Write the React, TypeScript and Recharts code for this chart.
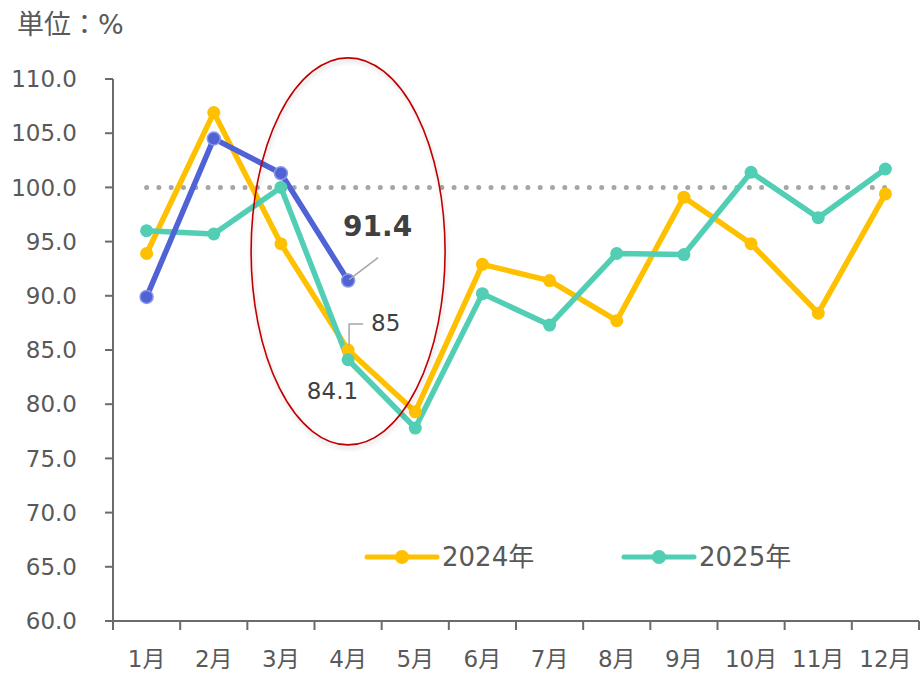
import React from 'react';
import { LineChart, Line, XAxis, YAxis, ReferenceLine, ReferenceDot } from 'recharts';

const months = ['1月', '2月', '3月', '4月', '5月', '6月', '7月', '8月', '9月', '10月', '11月', '12月'];
const values2024 = [93.9, 106.9, 94.8, 85, 79.3, 92.9, 91.4, 87.7, 99.1, 94.8, 88.4, 99.4];
const values2025 = [96.0, 95.7, 100.0, 84.1, 77.8, 90.2, 87.3, 93.9, 93.8, 101.4, 97.2, 101.7];
const valuesBlue: (number | null)[] = [89.9, 104.5, 101.3, 91.4, null, null, null, null, null, null, null, null];
const yTicks = [60, 65, 70, 75, 80, 85, 90, 95, 100, 105, 110];
const boundaryTicks = [-0.5, 0.5, 1.5, 2.5, 3.5, 4.5, 5.5, 6.5, 7.5, 8.5, 9.5, 10.5, 11.5];
const seriesNames = ['2024年', '2025年'];
const unitLabel = '単位：%';
const referenceValue = 100;
const highlightMonth = '4月';
const highlightCenter = 94.1;

const data = months.map((m, i) => ({ month: m, y2024: values2024[i], y2025: values2025[i], yBlue: valuesBlue[i] }));

const YELLOW = '#FFC000';
const TEAL = '#52CEB4';
const BLUE = '#4F62D6';
const AXIS = '#6B6B6B';
const TEXT = '#595959';
const FONT = '"DejaVu Sans", "Noto Sans CJK JP", sans-serif';
const BAND_PAD = 33.6;

const dotStyle = (color: string) => ({ r: 6.5, fill: color, stroke: color, strokeWidth: 0 });

const labelAt = (idx: number, render: (x: number, y: number) => React.ReactNode) => (props: any) => {
  if (props.index !== idx || props.x == null || props.y == null) return null;
  return <g key={'lbl' + idx}>{render(props.x, props.y)}</g>;
};

const blueLabel = labelAt(3, (x, y) => (
  <g>
    <line x1={x + 1} y1={y - 1} x2={x + 30} y2={y - 23} stroke="#A6A6A6" strokeWidth={1.5} />
    <text x={x - 5} y={y - 45} fontSize={28} fontWeight="bold" fill="#404040" fontFamily={FONT}>91.4</text>
  </g>
));

const yellowLabel = labelAt(3, (x, y) => (
  <g>
    <polyline points={`${x + 1},${y - 5} ${x + 1},${y - 26} ${x + 15},${y - 26}`} fill="none" stroke="#A6A6A6" strokeWidth={1.5} />
    <text x={x + 23} y={y - 19} fontSize={23} fill="#404040" fontFamily={FONT}>85</text>
  </g>
));

const tealLabel = labelAt(3, (x, y) => (
  <text x={x + 10} y={y + 39} fontSize={23} fill="#404040" textAnchor="end" fontFamily={FONT}>84.1</text>
));

const EmptyTick = () => <g />;

const EllipseShape = (props: any) => {
  const { cx, cy } = props;
  if (cx == null || cy == null) return null;
  return (
    <g>
      <defs>
        <filter id="ellShadow" x="-20%" y="-20%" width="140%" height="140%">
          <feDropShadow dx="1" dy="3" stdDeviation="2" floodColor="#000" floodOpacity="0.18" />
        </filter>
      </defs>
      <ellipse cx={cx} cy={cy} rx={97} ry={193.5} fill="none" stroke="#C00000" strokeWidth={1.6} filter="url(#ellShadow)" />
    </g>
  );
};

const LegendItem = ({ color, label, left }: { color: string; label: string; left: number }) => (
  <div style={{ position: 'absolute', left, top: 540, height: 34, display: 'flex', alignItems: 'center' }}>
    <svg width={76} height={20} style={{ display: 'block' }}>
      <line x1={3} y1={10} x2={73} y2={10} stroke={color} strokeWidth={5} strokeLinecap="round" />
      <circle cx={38} cy={10} r={7} fill={color} />
    </svg>
    <span style={{ fontFamily: FONT, fontSize: 26, color: TEXT, marginLeft: 2, lineHeight: '34px' }}>{label}</span>
  </div>
);

export default function App() {
  return (
    <div style={{ position: 'absolute', left: 0, top: 0, width: 920, height: 673, background: '#fff' }}>
      <div style={{ position: 'absolute', left: 17, top: 10, fontFamily: FONT, fontSize: 27, color: TEXT, lineHeight: '30px' }}>{unitLabel}</div>
      <LineChart width={920} height={673} data={data} margin={{ top: 79, right: 1, left: 0, bottom: 0 }}>
        <XAxis xAxisId="aTicks" type="number" domain={[0, 11]} ticks={boundaryTicks} tick={EmptyTick} height={1}
          padding={{ left: BAND_PAD, right: BAND_PAD }}
          interval={0} axisLine={{ stroke: AXIS, strokeWidth: 2 }} tickLine={{ stroke: AXIS, strokeWidth: 2 }} tickSize={9} />
        <XAxis xAxisId="months" dataKey="month" type="category" height={51} padding={{ left: BAND_PAD, right: BAND_PAD }}
          axisLine={false} tickLine={false} tickSize={0} tickMargin={29} interval={0}
          tick={{ fill: TEXT, fontSize: 23, fontFamily: FONT }} />
        <YAxis domain={[60, 110]} ticks={yTicks} width={113} interval={0} allowDataOverflow
          tickFormatter={(v: number) => v.toFixed(1)} tickSize={8} tickMargin={28}
          axisLine={{ stroke: AXIS, strokeWidth: 2 }} tickLine={{ stroke: AXIS, strokeWidth: 2 }}
          tick={{ fill: TEXT, fontSize: 23, fontFamily: FONT }} />
        <ReferenceLine xAxisId="months" segment={[{ x: months[0], y: referenceValue }, { x: months[11], y: referenceValue }]}
          stroke="#A6A6A6" strokeWidth={5} strokeDasharray="0 12.3" strokeLinecap="round" />
        <Line xAxisId="months" dataKey="y2024" stroke={YELLOW} strokeWidth={5.5} dot={dotStyle(YELLOW)} activeDot={false}
          isAnimationActive={false} label={yellowLabel} strokeLinejoin="round" />
        <Line xAxisId="months" dataKey="y2025" stroke={TEAL} strokeWidth={5.5} dot={dotStyle(TEAL)} activeDot={false}
          isAnimationActive={false} label={tealLabel} strokeLinejoin="round" />
        <Line xAxisId="months" dataKey="yBlue" stroke={BLUE} strokeWidth={5.5} activeDot={false}
          dot={{ r: 6.5, fill: BLUE, stroke: '#8A98E6', strokeWidth: 1.5 }}
          isAnimationActive={false} label={blueLabel} strokeLinejoin="round" connectNulls={false} />
        <ReferenceDot xAxisId="months" x={highlightMonth} y={highlightCenter} ifOverflow="visible" shape={EllipseShape} />
      </LineChart>
      <LegendItem color={YELLOW} label={seriesNames[0]} left={364} />
      <LegendItem color={TEAL} label={seriesNames[1]} left={621} />
    </div>
  );
}
